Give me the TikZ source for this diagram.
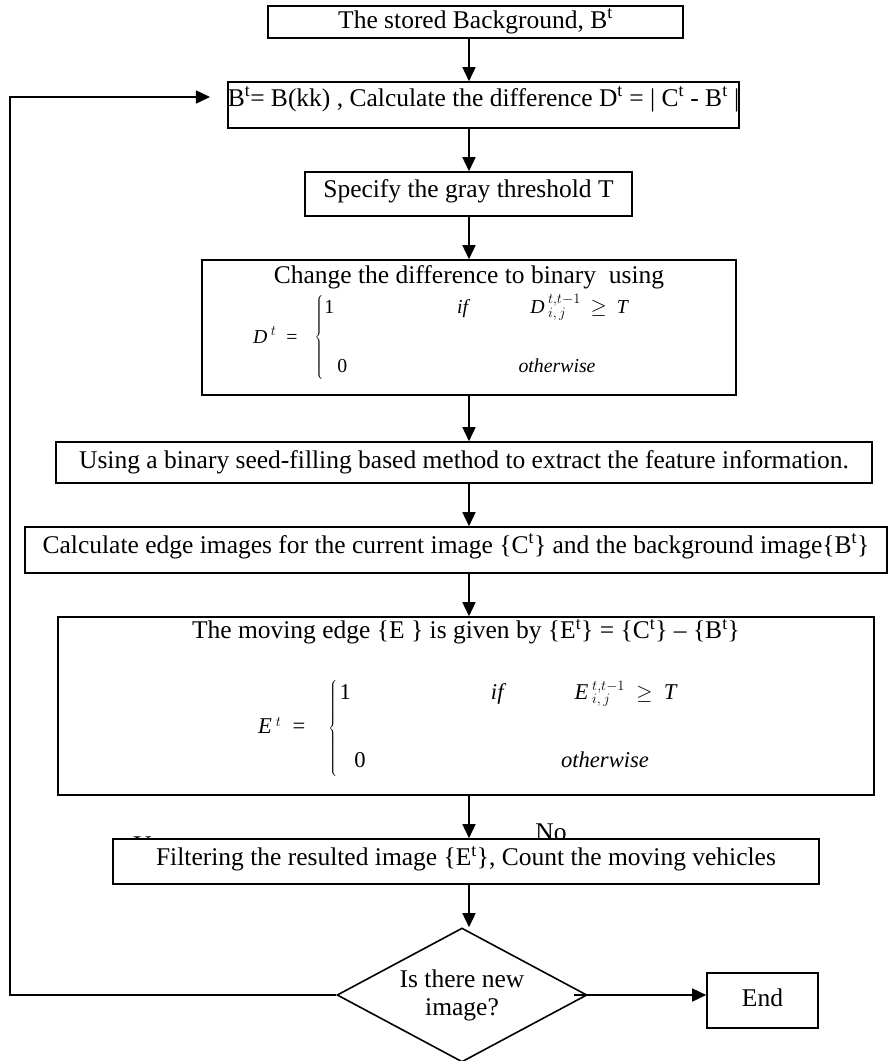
\documentclass[tikz,border=0pt]{standalone}
\usepackage{fontspec}
\setmainfont{Liberation Serif}
\usetikzlibrary{arrows.meta,positioning,shapes.geometric}

% piecewise rule: #1 letter, #2 font size
\newcommand{\casebox}[2]{%
  \fontsize{#2}{#2}\selectfont\itshape
  \rlap{#1\,$^{t}$\ \ \upshape=}%
  \rlap{\hspace*{3.1em}$\left\{\rule[-1.9em]{0pt}{4.3em}\right.$}%
  \rlap{\hspace*{3.6em}\raisebox{1.49em}{\upshape 1}}%
  \rlap{\hspace*{10.3em}\raisebox{1.49em}{if}}%
  \rlap{\hspace*{14em}\raisebox{1.49em}{#1\,$^{t,t-1}_{i,\,j}$\ \ $\geq$\ \ T}}%
  \rlap{\hspace*{4.25em}\raisebox{-1.49em}{\upshape 0}}%
  \rlap{\hspace*{13.4em}\raisebox{-1.49em}{otherwise}}%
  \hspace*{17em}}

\begin{document}
\begin{tikzpicture}[x=1pt,y=-1pt]
\tikzset{every node/.style={font=\fontsize{25.5}{28}\selectfont, inner sep=0pt}}
\tikzset{box/.style={draw, line width=1.6pt, fill=white, text height=18pt, text depth=6pt}}
\tikzset{flow/.style={line width=1.6pt, -{Triangle[length=14pt,width=13pt]}}}
\tikzset{decision/.style={draw, diamond, line width=1.6pt, fill=white, aspect=1.87, align=center}}

\useasboundingbox (0,0) rectangle (887,1061);
\coordinate (spine) at (469,0);
\coordinate (loop) at (10,97);

\node[box, minimum width=415pt, minimum height=32pt] (stored) at (475.5,22) {The stored Background, B\textsuperscript{t}};
\node[box, minimum width=503pt, minimum height=46pt, text depth=16pt] (diff) at (483.5,105) {B\textsuperscript{t}= B(kk) , Calculate the difference D\textsuperscript{t} = | C\textsuperscript{t} - B\textsuperscript{t} |};
\node[box, minimum width=327pt, minimum height=44pt, text depth=12pt] (thresh) at (468.5,194) {Specify the gray threshold T};

\node[box, minimum width=534pt, minimum height=135pt] (binar) at (469,327.5) {};
\node[below=6pt of binar.north, text height=18pt, text depth=6pt] (binartitle) {Change the difference to binary\ \ using};
\node[anchor=west] (dcase) at (253,337.5) {\casebox{D}{19.8}};

\node[box, minimum width=816pt, minimum height=41pt] (seed) at (464,462.5) {Using a binary seed-filling based method to extract the feature information.};
\node[box, minimum width=862pt, minimum height=46pt, text depth=12pt] (edges) at (456,550) {Calculate edge images for the current image \{C\textsuperscript{t}\} and the background image\{B\textsuperscript{t}\}};

\node[box, minimum width=816pt, minimum height=178pt] (moving) at (466,706) {};
\node[below=4pt of moving.north, text height=18pt, text depth=6pt] (movingtitle) {The moving edge \{E \} is given by \{E\textsuperscript{t}\} = \{C\textsuperscript{t}\} -- \{B\textsuperscript{t}\}};
\node[anchor=west] (ecase) at (258,728) {\casebox{E}{22.6}};

\node (nolabel) at (551,832) {No};
\node (yeslabel) at (152,845) {Yes};
\node[box, minimum width=706pt, minimum height=45pt, text depth=10pt] (filter) at (466,861.5) {Filtering the resulted image \{E\textsuperscript{t}\}, Count the moving vehicles};

\node[decision, minimum width=250pt, minimum height=134pt] (choice) at (462,995) {Is there new\\image?};
\node[box, minimum width=111pt, minimum height=55pt] (finish) at (762.5,1000.5) {End};

\draw[flow] (stored.south -| spine) -- (diff.north -| spine);
\draw[flow] (diff.south -| spine) -- (thresh.north -| spine);
\draw[flow] (thresh.south -| spine) -- (binar.north -| spine);
\draw[flow] (binar.south -| spine) -- (seed.north -| spine);
\draw[flow] (seed.south -| spine) -- (edges.north -| spine);
\draw[flow] (edges.south -| spine) -- (moving.north -| spine);
\draw[flow] (moving.south -| spine) -- (filter.north -| spine);
\draw[flow] (filter.south -| spine) -- (choice.north -| spine);
\draw[flow] ([xshift=-14pt]choice.east) -- (choice.east -| finish.west);
\draw[flow, shorten >=17pt] (choice.west) -| (loop) -- (diff.west |- loop);

\end{tikzpicture}
\end{document}
